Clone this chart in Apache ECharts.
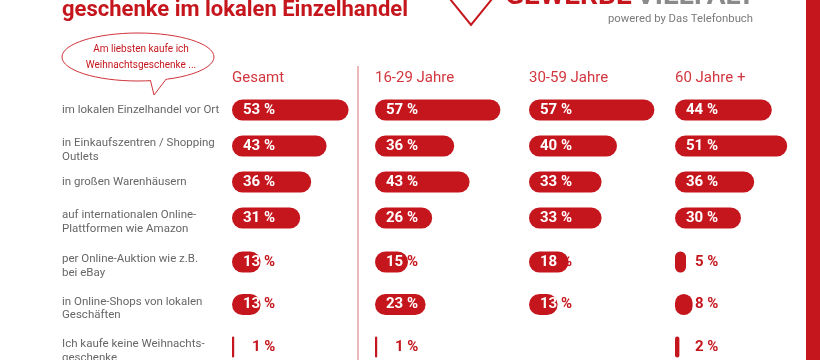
<!DOCTYPE html>
<html>
<head>
<meta charset="utf-8">
<script src="https://cdn.jsdelivr.net/npm/echarts@6/dist/echarts.min.js"></script>
<style>html,body{margin:0;padding:0;background:#fff}#c{width:820px;height:360px}</style>
</head>
<body>
<div id="c"></div>
<script>
// ---- data ----
const categories = [
  'im lokalen Einzelhandel vor Ort',
  'in Einkaufszentren / Shopping\nOutlets',
  'in großen Warenhäusern',
  'auf internationalen Online-\nPlattformen wie Amazon',
  'per Online-Auktion wie z.B.\nbei eBay',
  'in Online-Shops von lokalen\nGeschäften',
  'Ich kaufe keine Weihnachts-\ngeschenke'
];
const columns = ['Gesamt', '16-29 Jahre', '30-59 Jahre', '60 Jahre +'];
const gesamt = [53, 43, 36, 31, 13, 13, 1];
const age16to29 = [57, 36, 43, 26, 15, 23, 1];
const age30to59 = [57, 40, 33, 33, 18, 13, null];
const age60plus = [44, 51, 36, 30, 5, 8, 2];
const titleText = 'geschenke im lokalen Einzelhandel';
const bubbleLines = ['Am liebsten kaufe ich', 'Weihnachtsgeschenke ...'];
const logoRed = 'GEWERBE';
const logoGray = 'VIELFALT';
const logoSub = 'powered by Das Telefonbuch';

// ---- layout / style ----
const RED = '#c5161d';
const HEAD = '#d2363e';
const GRAY = '#676767';
const FONT = 'Roboto, "Noto Sans", sans-serif';
const colLeft = [232, 375, 529, 675];
// category axes without boundary gap: first/last rows sit on grid edges
const blocks = [
  { start: 0, end: 4, top: 110, height: 108 },
  { start: 4, end: 7, top: 262, height: 85 }
];
const seriesData = [gesamt, age16to29, age30to59, age60plus];

function catLabel(val) {
  if (val.indexOf('\n') >= 0) {
    return '{gap| }\n' + val.split('\n').map((s) => '{d|' + s + '}').join('\n');
  }
  return '{d|' + val + '}';
}

const grids = [], xAxes = [], yAxes = [], series = [], titles = [];
columns.forEach((name, c) => {
  titles.push({ text: name, left: colLeft[c] - 5, top: 66,
    textStyle: { fontFamily: FONT, fontSize: 15, fontWeight: 'normal', color: HEAD } });
  blocks.forEach((b) => {
    const gi = grids.length;
    grids.push({ left: colLeft[c], top: b.top, width: 132, height: b.height,
      containLabel: false, outerBoundsMode: 'none' });
    xAxes.push({ type: 'value', gridIndex: gi, min: 0, max: 60, show: false });
    yAxes.push({
      type: 'category', gridIndex: gi, inverse: true, boundaryGap: false,
      data: categories.slice(b.start, b.end),
      axisLine: { show: false }, axisTick: { show: false }, splitLine: { show: false },
      axisLabel: {
        show: c === 0, align: 'left', margin: colLeft[0] - 62, interval: 0,
        formatter: catLabel,
        rich: {
          d: { fontFamily: FONT, fontSize: 11.5, color: GRAY, lineHeight: 13.5, align: 'left' },
          gap: { fontSize: 1, lineHeight: 8 }
        }
      }
    });
    const vals = seriesData[c].slice(b.start, b.end);
    series.push({
      type: 'bar', xAxisIndex: gi, yAxisIndex: gi, barWidth: 21, silent: true, clip: false,
      itemStyle: { color: RED, borderRadius: 10.5 },
      data: vals.map((v) => {
        if (v == null) return { value: null, label: { show: false } };
        let fmt, dist = 11;
        if (v >= 20) fmt = '{w|' + v + ' %}';
        else if (v >= 10) fmt = '{w|' + v + '}{r| %}';
        else { fmt = '{r|' + v + ' %}'; dist = 20; }
        return {
          value: v,
          label: { show: true, position: 'insideLeft', distance: dist, formatter: fmt,
            rich: {
              w: { fontFamily: FONT, fontSize: 15, fontWeight: 'bold', color: '#fff' },
              r: { fontFamily: FONT, fontSize: 15, fontWeight: 'bold', color: RED }
            } }
        };
      })
    });
  });
});

const graphic = [
  { type: 'rect', shape: { x: 806, y: 0, width: 14, height: 360 }, style: { fill: RED } },
  { type: 'line', shape: { x1: 358, y1: 66, x2: 358, y2: 360 }, style: { stroke: '#e6a0a3', lineWidth: 1.5 } },
  { type: 'text', x: 62, y: 10, style: { text: titleText, fill: RED, font: 'bold 22px ' + FONT, verticalAlign: 'middle' } },
  { type: 'polyline', shape: { points: [[450, -1], [471, 25], [492, -1]] }, style: { stroke: RED, lineWidth: 2, fill: null } },
  { type: 'text', x: 505, y: -3, style: { text: logoRed, fill: RED, font: 'bold 28px ' + FONT, verticalAlign: 'middle' } },
  { type: 'text', x: 755, y: -3, style: { text: logoGray, fill: '#8a8a8a', font: 'bold 28px ' + FONT, verticalAlign: 'middle', align: 'right' } },
  { type: 'text', x: 753, y: 19, style: { text: logoSub, fill: '#7a7a7a', font: '11.3px ' + FONT, verticalAlign: 'middle', align: 'right' } },
  { type: 'ellipse', shape: { cx: 138, cy: 57, rx: 76, ry: 24 }, style: { fill: '#fff', stroke: '#d0333a', lineWidth: 1 } },
  { type: 'polygon', shape: { points: [[150.5, 78.5], [154, 95], [167, 77.5]] }, style: { fill: '#fff' } },
  { type: 'polyline', shape: { points: [[150.5, 80.6], [154, 95], [166, 79.3]] }, style: { stroke: '#d0333a', lineWidth: 1, fill: null } },
  { type: 'text', x: 141, y: 49, style: { text: bubbleLines[0], fill: RED, font: '10px ' + FONT, align: 'center', verticalAlign: 'middle' } },
  { type: 'text', x: 141, y: 65, style: { text: bubbleLines[1], fill: RED, font: '10px ' + FONT, align: 'center', verticalAlign: 'middle' } }
];

const chart = echarts.init(document.getElementById('c'), null, { renderer: 'canvas' });
chart.setOption({
  animation: false,
  backgroundColor: '#fff',
  title: titles,
  grid: grids,
  xAxis: xAxes,
  yAxis: yAxes,
  series: series,
  graphic: graphic
});
</script>
</body>
</html>
